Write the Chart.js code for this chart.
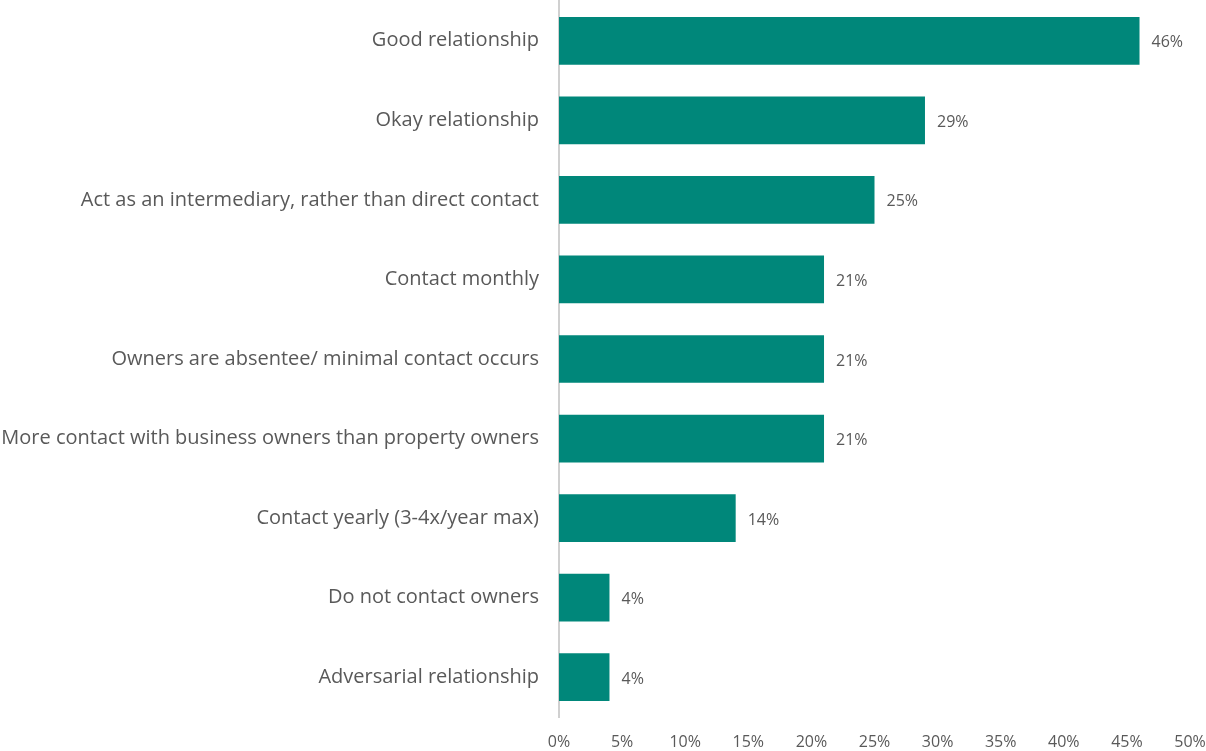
<!DOCTYPE html>
<html>
<head>
<meta charset="utf-8">
<script src="https://cdn.jsdelivr.net/npm/chart.js@4"></script>
<style>
    html, body { margin: 0; padding: 0; background: #ffffff; }
    #wrap { width: 1206px; height: 751px; }
</style>
</head>
<body>
<div id="wrap"><canvas id="ownerChart" width="1206" height="751"></canvas></div>
<script>
const categories = [
    'Good relationship',
    'Okay relationship',
    'Act as an intermediary, rather than direct contact',
    'Contact monthly',
    'Owners are absentee/ minimal contact occurs',
    'More contact with business owners than property owners',
    'Contact yearly (3-4x/year max)',
    'Do not contact owners',
    'Adversarial relationship'
];
const shares = [46, 29, 25, 21, 21, 21, 14, 4, 4];
const tickValues = [0, 5, 10, 15, 20, 25, 30, 35, 40, 45, 50];

const textColor = '#595959';
const fontFamily = '"Open Sans", "Noto Sans", sans-serif';

// writes the percentage just past the end of each bar
const barLabels = {
    id: 'barLabels',
    afterDatasetsDraw(chart) {
        const ctx = chart.ctx;
        const meta = chart.getDatasetMeta(0);
        ctx.save();
        ctx.font = '16px ' + fontFamily;
        ctx.fillStyle = textColor;
        ctx.textAlign = 'left';
        ctx.textBaseline = 'middle';
        meta.data.forEach(function(bar, i) {
            ctx.fillText(shares[i] + '%', bar.x + 12, bar.y + 2);
        });
        ctx.restore();
    }
};

new Chart(document.getElementById('ownerChart'), {
    type: 'bar',
    data: {
        labels: categories,
        datasets: [{
            data: shares,
            backgroundColor: '#00877a',
            borderWidth: 0,
            categoryPercentage: 1,
            barPercentage: 0.6
        }]
    },
    options: {
        indexAxis: 'y',
        responsive: false,
        animation: false,
        layout: {
            padding: { top: 1, right: 16, bottom: 0, left: 0 }
        },
        plugins: {
            legend: { display: false },
            tooltip: { enabled: false }
        },
        scales: {
            x: {
                min: 0,
                max: 50,
                afterBuildTicks: function(scale) {
                    scale.ticks = tickValues.map(v => ({ value: v }));
                },
                afterFit: function(scale) {
                    scale.height = 34;
                    scale.paddingLeft = 0;
                    scale.paddingRight = 0;
                },
                grid: { display: false, drawTicks: false },
                border: { display: false },
                ticks: {
                    padding: 16,
                    color: textColor,
                    font: { family: fontFamily, size: 16 },
                    callback: function(value) {
                        return value + '%';
                    }
                }
            },
            y: {
                afterFit: function(scale) {
                    scale.width = 559;
                    scale.paddingTop = 0;
                    scale.paddingBottom = 0;
                },
                grid: { display: false, drawTicks: false },
                border: { display: true, color: '#d0d0d0', width: 2 },
                ticks: {
                    padding: 20,
                    color: textColor,
                    font: { family: fontFamily, size: 20 }
                }
            }
        }
    },
    plugins: [barLabels]
});
</script>
</body>
</html>
